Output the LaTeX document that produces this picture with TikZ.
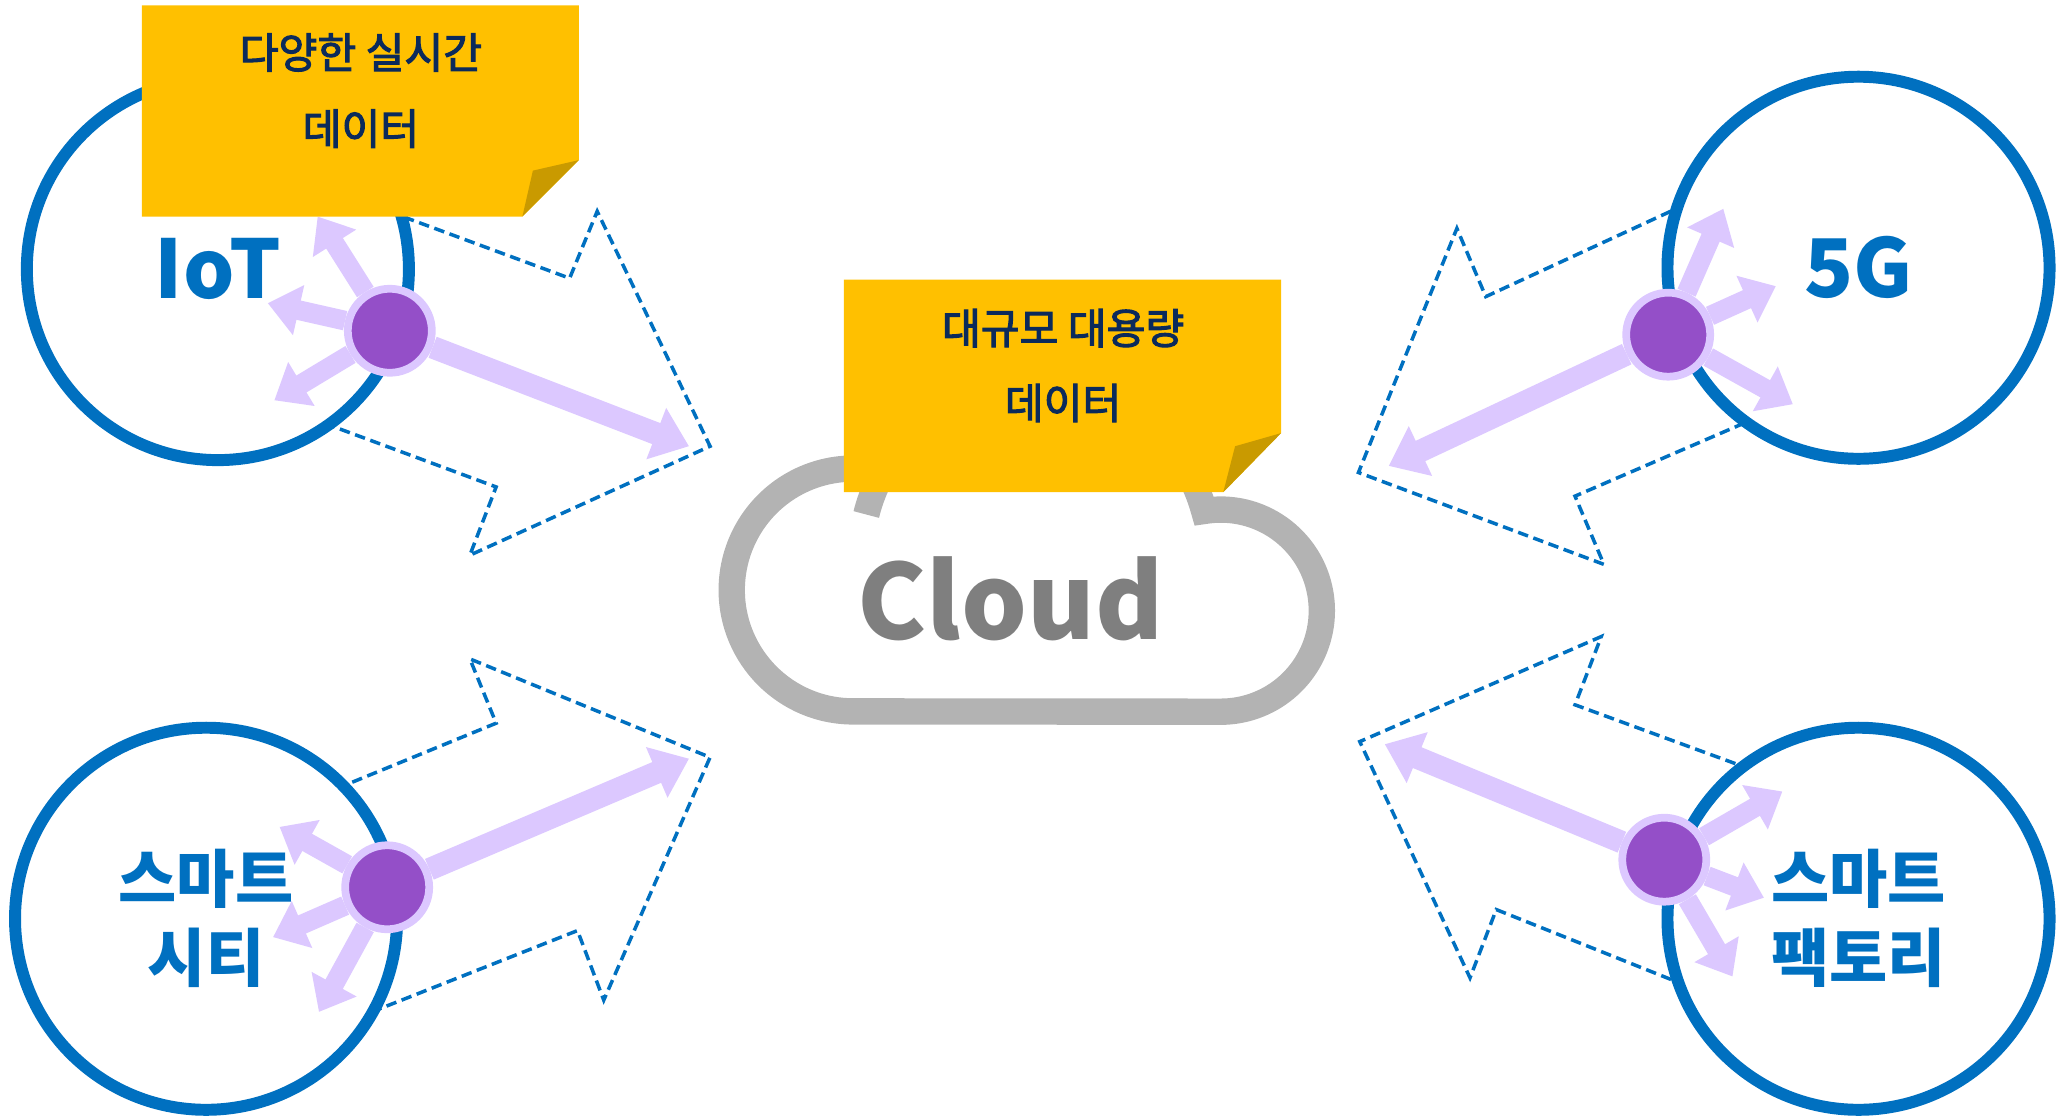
\documentclass[tikz,border=0pt]{standalone}
\usepackage{fontspec}
\newfontfamily\kr{Noto Sans CJK KR}
\newfontfamily\krmid{Noto Sans CJK KR}[FakeBold=2.6]
\usetikzlibrary{arrows.meta}

\definecolor{ringblue}{HTML}{0070C0}
\definecolor{noteyellow}{HTML}{FFC000}
\definecolor{notefold}{HTML}{C99A00}
\definecolor{notetext}{HTML}{0B2A5B}
\definecolor{lav}{HTML}{DCC8FF}
\definecolor{dotpurple}{HTML}{944FC8}
\definecolor{cloudgray}{HTML}{B3B3B3}
\definecolor{cloudtext}{HTML}{7F7F7F}

\tikzset{
  ring/.style={circle, draw=ringblue, line width=3.4pt, fill=white, minimum size=3.82cm,
    inner sep=0pt, text=ringblue, align=center, font=\kr\bfseries\fontsize{23}{28}\selectfont},
  ringkr/.style={ring, font=\kr\bfseries\fontsize{18}{22.4}\selectfont},
  hub/.style={circle, fill=dotpurple, draw=lav, line width=2.2pt, minimum size=0.84cm, inner sep=0pt},
  spoke/.style={lav, line width=5.6pt, -{Triangle[length=9pt,width=14pt]}},
  longspoke/.style={spoke, line width=6.4pt, -{Triangle[length=10pt,width=15pt]}},
  flow/.style={ringblue, line width=1pt, dash pattern=on 3pt off 1.6pt},
  notetxt/.style={text=notetext, inner sep=0pt, font=\krmid\fontsize{12}{14}\selectfont},
  cloudline/.style={cloudgray, line width=7.5pt, line join=miter}
}

\begin{document}
\begin{tikzpicture}[x=0.013125cm, y=-0.013125cm]
    \useasboundingbox (0,0) rectangle (1568,852);

    % dashed flow arrows (tails hidden under the circles)
    \draw[flow] (250,144) -- (434,212) -- (455,161) -- (541,340) -- (358,423) -- (378,371) -- (200,305) -- cycle;
    \draw[flow] (1340,130) -- (1132,226) -- (1110,174) -- (1035,360) -- (1222,430) -- (1200,378) -- (1390,296) -- cycle;
    \draw[flow] (200,624) -- (378,551) -- (358,502) -- (541,577) -- (460,762) -- (440,709) -- (220,796) -- cycle;
    \draw[flow] (1380,603) -- (1200,537) -- (1220,485) -- (1036,565) -- (1120,745) -- (1140,693) -- (1360,781) -- cycle;

    \node[ring] (I) at (166,205) {IoT};
    \node[ring] (G) at (1416,204) {5G};
    \node[ringkr] (S) at (157,700) {스마트\\시티};
    \node[ringkr] (F) at (1416,700) {스마트\\팩토리};

    % cloud
    \draw[cloudline] (660,392) arc[start angle=194, end angle=344.8, radius=133]
        arc[start angle=260.5, end angle=450, radius=77] -- (650,542)
        arc[start angle=90, end angle=275, radius=92.5];
    \node[text=cloudtext, font=\kr\bfseries\fontsize{29.5}{34}\selectfont] (C) at (770,456) {Cloud};

    % hubs and spokes
    \node[hub] (Ih) at (297,252) {};
    \coordinate (Ia) at (242,165); \coordinate (Ib) at (204,231); \coordinate (Ic) at (209,305); \coordinate (Il) at (525,340);
    \foreach \t in {Ia,Ib,Ic} \draw[spoke] (Ih) -- (\t);
    \draw[longspoke] (Ih) -- (Il);

    \node[hub] (Gh) at (1271,255) {};
    \coordinate (Ga) at (1313,159); \coordinate (Gb) at (1353,218); \coordinate (Gc) at (1366,308); \coordinate (Gl) at (1058,355);
    \foreach \t in {Ga,Gb,Gc} \draw[spoke] (Gh) -- (\t);
    \draw[longspoke] (Gh) -- (Gl);

    \node[hub] (Sh) at (295,676) {};
    \coordinate (Sa) at (213,630); \coordinate (Sb) at (208,714); \coordinate (Sc) at (243,771); \coordinate (Sl) at (525,578);
    \foreach \t in {Sa,Sb,Sc} \draw[spoke] (Sh) -- (\t);
    \draw[longspoke] (Sh) -- (Sl);

    \node[hub] (Fh) at (1268,655) {};
    \coordinate (Fa) at (1358,603); \coordinate (Fb) at (1344,684); \coordinate (Fc) at (1320,744); \coordinate (Fl) at (1055,567);
    \foreach \t in {Fa,Fb,Fc} \draw[spoke] (Fh) -- (\t);
    \draw[longspoke] (Fh) -- (Fl);

    % sticky notes
    \fill[noteyellow] (108,4) -- (441,4) -- (441,122) -- (398,165) -- (108,165) -- cycle;
    \fill[notefold] (398,165) -- (406,130) -- (441,122) -- cycle;
    \node[notetxt] (N1) at (275,40) {다양한 실시간};
    \node[notetxt] (N2) at (275,98) {데이터};

    \fill[noteyellow] (643,213) -- (976,213) -- (976,330) -- (932,375) -- (643,375) -- cycle;
    \fill[notefold] (932,375) -- (941,340) -- (976,330) -- cycle;
    \node[notetxt] (N3) at (810,250) {대규모 대용량};
    \node[notetxt] (N4) at (810,307) {데이터};
\end{tikzpicture}
\end{document}
